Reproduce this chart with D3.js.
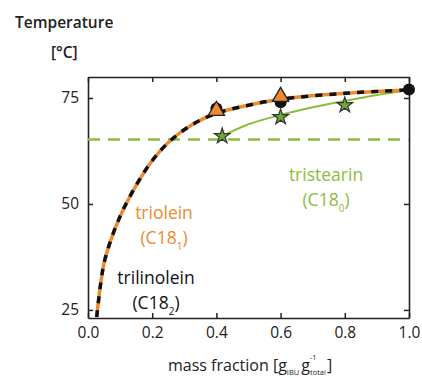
<!DOCTYPE html>
<html>
<head>
<meta charset="utf-8">
<script src="https://cdn.jsdelivr.net/npm/d3@7"></script>
<style>
  body { margin: 0; background: #fff; }
  svg text { font-family: "Open Sans", "DejaVu Sans", sans-serif; }
</style>
</head>
<body>
<svg id="chart" width="422" height="378"></svg>
<script>
// values
let xTicks = [0.0, 0.2, 0.4, 0.6, 0.8, 1.0];
let yTicks = [25, 50, 75];

// fitted melting curve (trilinolein / triolein overlap)
let curveX = [0.027, 0.04, 0.053, 0.095, 0.147, 0.2, 0.256, 0.324, 0.4, 0.5, 0.6, 0.8, 1.0];
let curveT = [23.3, 31.5, 37.0, 46.2, 54.0, 60.2, 64.9, 68.7, 71.4, 73.3, 74.7, 76.1, 76.9];

// tristearin fit
let stearinX = [0.418, 0.5, 0.6, 0.7, 0.8, 0.9, 1.0];
let stearinT = [66.0, 68.8, 71.0, 72.8, 74.3, 75.7, 76.9];

// measured points
let linoleinX = [0.4, 0.6, 1.0];
let linoleinT = [72.5, 74.0, 77.0];
let oleinX = [0.4, 0.6];
let oleinT = [72.0, 75.3];
let stearinPtX = [0.418, 0.6, 0.8];
let stearinPtT = [66.0, 70.5, 73.3];

let eutectic = 65.2;

let orange = "#ec8a32";
let green = "#8dbd3e";

let svg = d3.select("#chart");

let margin = { top: 77, right: 13, bottom: 60, left: 88 };
let plotWidth = 422 - margin.left - margin.right;
let plotHeight = 378 - margin.top - margin.bottom;

let x = d3.scaleLinear().domain([0, 1]).range([0, plotWidth]);
let y = d3.scaleLinear().domain([23.1, 79.95]).range([plotHeight, 0]);

let plot = svg.append("g")
  .attr("transform", "translate(" + margin.left + "," + margin.top + ")");

// axes, ticks pointing inward
let tickLen = 5;
plot.append("g").attr("class", "x-bottom")
  .attr("transform", "translate(0," + plotHeight + ")")
  .call(d3.axisBottom(x).tickValues(xTicks).tickFormat(d3.format(".1f")).tickSizeInner(-tickLen).tickSizeOuter(0).tickPadding(9));
plot.append("g").attr("class", "x-top")
  .call(d3.axisTop(x).tickValues(xTicks).tickFormat("").tickSizeInner(-tickLen).tickSizeOuter(0));
plot.append("g").attr("class", "y-left")
  .call(d3.axisLeft(y).tickValues(yTicks).tickSizeInner(-tickLen).tickSizeOuter(0).tickPadding(9));
plot.append("g").attr("class", "y-right")
  .attr("transform", "translate(" + plotWidth + ",0)")
  .call(d3.axisRight(y).tickValues(yTicks).tickFormat("").tickSizeInner(-tickLen).tickSizeOuter(0));

plot.selectAll(".domain").attr("stroke", "#222").attr("stroke-width", 1.6);
plot.selectAll(".tick line").attr("stroke", "#222").attr("stroke-width", 1.5);
plot.selectAll(".tick text").attr("font-size", 15.5).attr("fill", "#222")
  .style("font-family", "'Open Sans', sans-serif");

// eutectic dashed line
plot.append("line")
  .attr("x1", x(0)).attr("x2", x(1))
  .attr("y1", y(eutectic)).attr("y2", y(eutectic))
  .attr("stroke", green).attr("stroke-width", 2.5)
  .attr("stroke-dasharray", "12,8");

let line = d3.line()
  .x(d => x(d[0]))
  .y(d => y(d[1]))
  .curve(d3.curveCatmullRom.alpha(0.5));

let curvePts = curveX.map((v, i) => [v, curveT[i]]);
let stearinPts = stearinX.map((v, i) => [v, stearinT[i]]);

plot.append("path").datum(stearinPts)
  .attr("d", line).attr("fill", "none")
  .attr("stroke", green).attr("stroke-width", 2);

plot.append("path").datum(curvePts)
  .attr("d", line).attr("fill", "none")
  .attr("stroke", orange).attr("stroke-width", 3.5);
plot.append("path").datum(curvePts)
  .attr("d", line).attr("fill", "none")
  .attr("stroke", "#111").attr("stroke-width", 3.5)
  .attr("stroke-dasharray", "7,7");

// markers
plot.selectAll("circle.lin")
  .data(linoleinX.map((v, i) => [v, linoleinT[i]]))
  .enter().append("circle")
  .attr("class", "lin")
  .attr("cx", d => x(d[0])).attr("cy", d => y(d[1]))
  .attr("r", 6).attr("fill", "#111");

plot.selectAll("path.ole")
  .data(oleinX.map((v, i) => [v, oleinT[i]]))
  .enter().append("path")
  .attr("class", "ole")
  .attr("d", d3.symbol().type(d3.symbolTriangle).size(115))
  .attr("transform", d => "translate(" + x(d[0]) + "," + y(d[1]) + ")")
  .attr("fill", orange).attr("stroke", "#222").attr("stroke-width", 1.3);

plot.selectAll("path.ste")
  .data(stearinPtX.map((v, i) => [v, stearinPtT[i]]))
  .enter().append("path")
  .attr("class", "ste")
  .attr("d", d3.symbol().type(d3.symbolStar).size(75))
  .attr("transform", d => "translate(" + x(d[0]) + "," + y(d[1]) + ")")
  .attr("fill", "#6aaa34").attr("stroke", "#333").attr("stroke-width", 1.2);

// series labels
let label = function(px, py, name, sub, color) {
  let g = svg.append("g").attr("fill", color).attr("font-size", 17.5);
  g.append("text").attr("x", px).attr("y", py).attr("text-anchor", "middle").text(name);
  let t = g.append("text").attr("x", px).attr("y", py + 25).attr("text-anchor", "middle");
  t.append("tspan").text("(C18");
  t.append("tspan").attr("font-size", 10).attr("dy", 6).text(sub);
  t.append("tspan").attr("dy", -6).text(")");
};
label(164, 219, "triolein", "1", orange);
label(156, 284, "trilinolein", "2", "#111");
label(326, 181, "tristearin", "0", green);

// axis titles
let titleFont = { size: 15.5, weight: 600 };
svg.append("text").attr("x", 15).attr("y", 28)
  .attr("font-size", titleFont.size).attr("font-weight", titleFont.weight).attr("fill", "#222")
  .text("Temperature");
svg.append("text").attr("x", 51).attr("y", 58)
  .attr("font-size", titleFont.size).attr("font-weight", titleFont.weight).attr("fill", "#222")
  .text("[°C]");

// x title with sub/superscripts placed piece by piece
let xt = svg.append("g").attr("fill", "#222");
let cx = 168, base = 371;
let piece = function(txt, size, dy) {
  let t = xt.append("text").attr("x", cx).attr("y", base + dy).attr("font-size", size).text(txt);
  return t.node().getComputedTextLength();
};
cx += piece("mass fraction [g", 16, 0);
cx += piece("IBU", 7.5, 4) + 2;
cx += piece("g", 16, 0);
let supW = piece("-1", 7.5, -11);
cx += piece("total", 7.5, 4) + 1;
piece("]", 16, 0);
</script>
</body>
</html>
